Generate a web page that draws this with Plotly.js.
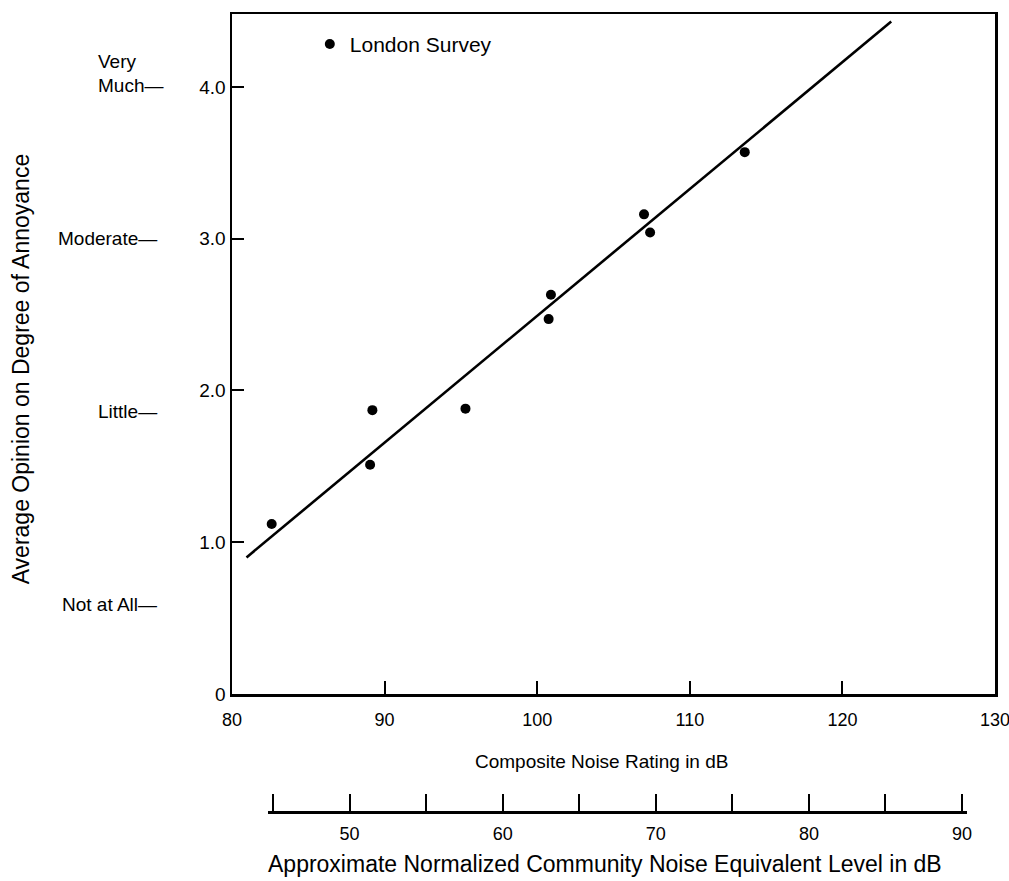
<!DOCTYPE html>
<html>
<head>
<meta charset="utf-8">
<script src="https://cdn.plot.ly/plotly-3.0.1.min.js"></script>
<style>html,body{margin:0;padding:0;background:#fff;}#chart{width:1009px;height:881px;}</style>
</head>
<body>
<div id="chart"></div>
<script>
// Data
const cnrDb = [82.6, 89.05, 89.2, 95.3, 100.75, 100.9, 107.0, 107.4, 113.6];
const avgOpinion = [1.12, 1.51, 1.87, 1.88, 2.47, 2.63, 3.16, 3.04, 3.57];
const fitX = [80.95, 123.2];
const fitY = [0.90, 4.43];
const yTickVals = [0, 1, 2, 3, 4];
const yTickText = ["0", "1.0", "2.0", "3.0", "4.0"];
const xTickVals = [80, 90, 100, 110, 120, 130];
const cnelTickVals = [45, 50, 55, 60, 65, 70, 75, 80, 85, 90];
const cnelTickText = ["", "50", "", "60", "", "70", "", "80", "", "90"];
const scaleWords = ["Very", "Much—", "Moderate—", "Little—", "Not at All—"];
const scaleWordY = [4.17, 4.01, 3.0, 1.86, 0.59];

const FONT = "Liberation Sans, Arial, Helvetica, sans-serif";
const traces = [
  {
    x: fitX, y: fitY, mode: "lines", type: "scatter",
    line: {color: "#000", width: 2.6}, showlegend: false, hoverinfo: "skip",
    xaxis: "x", yaxis: "y"
  },
  {
    x: cnrDb, y: avgOpinion, mode: "markers", type: "scatter",
    name: "London Survey",
    marker: {color: "#000", size: 10, symbol: "circle"},
    xaxis: "x", yaxis: "y"
  },
  {
    x: [45, 90], y: [0, 0], mode: "markers", type: "scatter",
    marker: {opacity: 0}, showlegend: false, hoverinfo: "skip",
    xaxis: "x2", yaxis: "y2"
  }
];

const annotations = [];
const ax = {xref: "paper", yref: "y", showarrow: false, font: {family: FONT, size: 19, color: "#000"}};
annotations.push(Object.assign({}, ax, {text: scaleWords[0], x: -0.178, xanchor: "left", y: scaleWordY[0], yanchor: "middle"}));
annotations.push(Object.assign({}, ax, {text: scaleWords[1], x: -0.178, xanchor: "left", y: scaleWordY[1], yanchor: "middle"}));
for (let i = 2; i < scaleWords.length; i++) {
  annotations.push(Object.assign({}, ax, {text: scaleWords[i], x: -0.096, xanchor: "right", y: scaleWordY[i], yanchor: "middle"}));
}
annotations.push({xref: "paper", yref: "paper", showarrow: false, text: "Average Opinion on Degree of Annoyance",
  x: -0.277, y: 0.555, xanchor: "center", yanchor: "middle", textangle: -90,
  font: {family: FONT, size: 23, color: "#000"}});
annotations.push({xref: "paper", yref: "paper", showarrow: false, text: "Composite Noise Rating in dB",
  x: 0.484, y: 0.0615, xanchor: "center", yanchor: "middle",
  font: {family: FONT, size: 19, color: "#000"}});
annotations.push({xref: "paper", yref: "paper", showarrow: false, text: "Approximate Normalized Community Noise Equivalent Level in dB",
  x: 0.489, y: -0.066, xanchor: "center", yanchor: "middle",
  font: {family: FONT, size: 23, color: "#000"}});

const layout = {
  width: 1009, height: 881,
  margin: {l: 232, r: 14, t: 14, b: 70},
  paper_bgcolor: "#fff", plot_bgcolor: "#fff",
  font: {family: FONT, color: "#000", size: 18},
  showlegend: true,
  legend: {x: 0.102, y: 0.962, xanchor: "left", yanchor: "middle", bgcolor: "rgba(0,0,0,0)",
    font: {family: FONT, size: 21, color: "#000"}},
  xaxis: {
    domain: [0, 1], range: [80, 130], anchor: "y",
    tickvals: xTickVals, ticks: "inside", ticklen: 13, tickwidth: 2, tickcolor: "#000",
    showline: true, linecolor: "#000", linewidth: 2.5, mirror: true,
    showgrid: false, zeroline: false, ticklabelstandoff: 8, ticklabeloverflow: "allow",
    tickfont: {family: FONT, size: 18, color: "#000"}
  },
  yaxis: {
    domain: [0.1468, 1], range: [0, 4.48], anchor: "x",
    tickvals: yTickVals, ticktext: yTickText, ticks: "inside", ticklen: 12, tickwidth: 2, tickcolor: "#000",
    showline: true, linecolor: "#000", linewidth: 2.5, mirror: true,
    showgrid: false, zeroline: false, ticklabelstandoff: 0,
    tickfont: {family: FONT, size: 19, color: "#000"}
  },
  xaxis2: {
    domain: [0.0477, 0.9628], range: [44.7, 90.3], anchor: "y2",
    tickvals: cnelTickVals, ticktext: cnelTickText, ticks: "inside", ticklen: 17, tickwidth: 2, tickcolor: "#000",
    showline: true, linecolor: "#000", linewidth: 2.5, mirror: false,
    showgrid: false, zeroline: false, ticklabelstandoff: 5, ticklabeloverflow: "allow",
    tickfont: {family: FONT, size: 18, color: "#000"}
  },
  yaxis2: {
    domain: [0, 0.001], range: [0, 1], anchor: "x2",
    visible: false, showgrid: false, zeroline: false
  },
  annotations: annotations
};

Plotly.newPlot("chart", traces, layout, {staticPlot: true, displayModeBar: false});
</script>
</body>
</html>
